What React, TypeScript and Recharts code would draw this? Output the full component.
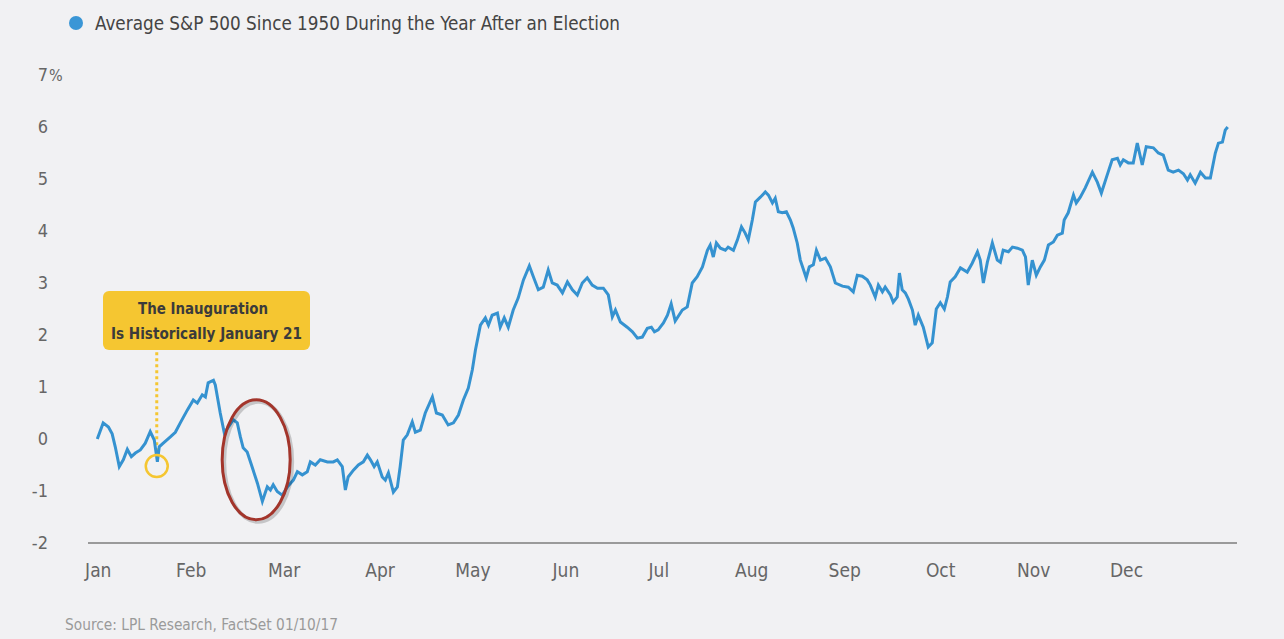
import { LineChart, Line, XAxis, YAxis, ReferenceDot, ReferenceLine } from 'recharts';

const MONTHS = ['Jan', 'Feb', 'Mar', 'Apr', 'May', 'Jun', 'Jul', 'Aug', 'Sep', 'Oct', 'Nov', 'Dec'];
const MONTH_TICKS = [0, 30, 60, 91, 121, 151, 181, 211, 241, 272, 302, 332];
const Y_TICKS = [-2, -1, 0, 1, 2, 3, 4, 5, 6, 7];

// day of year (0 = Jan 1) for each plotted point
const dayOfYear = [
  0, 1.9, 3.6, 4.8, 5.8, 7.1, 8.4, 9.7, 11.0, 12.3, 13.9, 15.5, 17.1, 18.4, 19.4, 20.0, 21.3, 23.6, 25.2, 26.8,
  29.1, 31.0, 32.3, 33.9, 34.9, 35.8, 37.5, 38.1, 39.7, 41.0, 42.3, 43.9, 45.2, 46.2, 47.1, 48.4, 50.0, 51.7, 53.3, 54.2,
  54.9, 55.9, 56.8, 58.1, 59.7, 61.4, 63.3, 64.6, 66.2, 67.8, 68.8, 70.4, 72.0, 74.3, 76.2, 77.5, 79.1, 80.1, 81.0, 82.7,
  84.3, 85.9, 87.2, 88.2, 89.4, 90.4, 92.0, 93.0, 94.0, 95.6, 96.9, 97.8, 98.8, 100.1, 101.7, 102.7, 104.3, 105.9, 108.2, 109.5,
  111.4, 113.3, 115.0, 116.6, 118.2, 119.8, 121.1, 122.1, 123.7, 125.3, 126.3, 127.5, 129.2, 130.1, 131.4, 132.7, 134.3, 135.9, 137.6, 139.5,
  140.8, 142.4, 144.0, 145.6, 146.9, 148.5, 150.2, 151.8, 153.4, 155.0, 156.6, 158.2, 159.8, 161.5, 163.4, 165.0, 166.3, 167.3, 168.9, 171.1,
  172.8, 174.4, 176.0, 177.6, 178.9, 179.9, 181.1, 182.8, 184.1, 185.3, 186.6, 188.9, 190.5, 192.1, 193.7, 195.4, 197.0, 197.9, 198.9, 199.9,
  201.2, 202.8, 203.7, 205.4, 206.7, 208.0, 209.2, 210.2, 211.5, 212.5, 214.1, 215.7, 216.7, 218.0, 218.9, 219.9, 221.2, 222.5, 223.8, 224.7,
  226.0, 227.0, 228.9, 229.9, 231.2, 232.2, 233.5, 235.1, 236.7, 238.3, 240.6, 242.5, 244.1, 245.4, 247.0, 248.6, 249.6, 251.2, 252.2, 253.5,
  254.4, 256.1, 257.0, 258.3, 259.0, 259.9, 260.9, 261.9, 263.2, 264.1, 265.1, 266.7, 268.3, 269.6, 270.9, 272.2, 273.5, 274.5, 275.4, 277.0,
  278.7, 280.9, 282.5, 284.2, 285.1, 286.1, 287.4, 289.0, 290.6, 291.6, 292.5, 294.2, 295.5, 297.1, 298.7, 299.7, 300.6, 301.9, 303.2, 304.5,
  305.8, 307.1, 308.7, 310.0, 311.6, 312.2, 313.5, 315.2, 316.1, 317.4, 319.0, 321.3, 322.9, 324.2, 326.1, 327.7, 329.4, 330.3, 331.3, 332.9,
  334.5, 335.8, 337.4, 338.7, 341.0, 342.6, 344.2, 345.8, 347.4, 349.1, 350.7, 352.0, 352.9, 354.5, 356.2, 357.8, 359.4, 361.0, 362.0, 363.3,
  364.2, 365.0,
];

// average S&P 500 return (%) since 1950, year after an election
const avgReturn = [
  0.0, 0.31, 0.23, 0.1, -0.15, -0.53, -0.4, -0.2, -0.34, -0.27, -0.21, -0.08, 0.14, -0.02, -0.44, -0.15, -0.08, 0.04, 0.13, 0.31,
  0.56, 0.75, 0.69, 0.85, 0.81, 1.08, 1.13, 1.04, 0.5, 0.12, 0.23, 0.37, 0.31, 0.04, -0.17, -0.25, -0.54, -0.85, -1.2, -1.04,
  -0.92, -0.98, -0.88, -1.01, -1.08, -0.92, -0.79, -0.63, -0.69, -0.63, -0.44, -0.5, -0.4, -0.44, -0.44, -0.4, -0.53, -0.98, -0.73, -0.6,
  -0.5, -0.44, -0.31, -0.4, -0.53, -0.44, -0.73, -0.79, -0.65, -1.02, -0.92, -0.53, -0.02, 0.08, 0.33, 0.13, 0.17, 0.5, 0.81, 0.5,
  0.46, 0.27, 0.31, 0.46, 0.75, 0.98, 1.33, 1.71, 2.19, 2.33, 2.19, 2.38, 2.42, 2.15, 2.33, 2.15, 2.48, 2.71, 3.06, 3.33,
  3.12, 2.87, 2.92, 3.25, 3.0, 2.96, 2.81, 3.02, 2.87, 2.77, 3.0, 3.1, 2.96, 2.9, 2.9, 2.77, 2.35, 2.48, 2.25, 2.15,
  2.06, 1.94, 1.96, 2.13, 2.15, 2.06, 2.1, 2.23, 2.38, 2.6, 2.27, 2.48, 2.54, 3.0, 3.12, 3.31, 3.63, 3.73, 3.5, 3.77,
  3.67, 3.63, 3.69, 3.63, 3.83, 4.08, 3.96, 3.83, 4.21, 4.56, 4.65, 4.75, 4.69, 4.54, 4.63, 4.37, 4.35, 4.37, 4.21, 4.06,
  3.77, 3.44, 3.1, 3.31, 3.35, 3.63, 3.44, 3.48, 3.31, 3.0, 2.94, 2.92, 2.83, 3.15, 3.13, 3.06, 2.96, 2.73, 2.96, 2.83,
  2.92, 2.77, 2.63, 2.73, 3.19, 2.87, 2.81, 2.69, 2.48, 2.19, 2.38, 2.15, 1.77, 1.85, 2.5, 2.62, 2.5, 2.73, 3.02, 3.12,
  3.29, 3.21, 3.38, 3.6, 3.44, 3.0, 3.4, 3.77, 3.44, 3.4, 3.63, 3.6, 3.69, 3.67, 3.63, 3.5, 2.96, 3.44, 3.15, 3.31,
  3.44, 3.73, 3.79, 3.92, 3.96, 4.21, 4.35, 4.69, 4.54, 4.65, 4.83, 5.13, 4.94, 4.73, 5.08, 5.37, 5.4, 5.27, 5.37, 5.31,
  5.31, 5.69, 5.27, 5.62, 5.6, 5.5, 5.46, 5.17, 5.13, 5.17, 5.1, 4.98, 5.08, 4.92, 5.13, 5.02, 5.02, 5.5, 5.69, 5.71,
  5.94, 6.0,
];

const data = dayOfYear.map((day, i) => ({ day, value: avgReturn[i] }));

const FONT = "'Liberation Sans Narrow', 'DejaVu Sans Condensed', sans-serif";
const BG = '#f1f1f3';
const LINE_COLOR = '#3592d0';
const YELLOW = '#f5c631';

const YTick = ({ y, payload }: any) => (
  <g>
    <text x={48} y={y} dy={6} textAnchor="end" fill="#666" fontSize={18} fontFamily={FONT}>
      {payload.value}
    </text>
    {payload.value === 7 && (
      <text x={49} y={y} dy={6} textAnchor="start" fill="#666" fontSize={16} fontFamily={FONT}>
        %
      </text>
    )}
  </g>
);

const XTick = ({ x, y, payload }: any) => (
  <text x={x + 1} y={y} dy={26} textAnchor="middle" fill="#666" fontSize={19} fontFamily={FONT}>
    {MONTHS[MONTH_TICKS.indexOf(payload.value)]}
  </text>
);

const RedEllipse = ({ cx, cy }: any) => (
  <g>
    <ellipse cx={cx + 2} cy={cy + 2} rx={34} ry={60} fill="none" stroke="rgba(0,0,0,0.18)" strokeWidth={4} />
    <ellipse cx={cx} cy={cy} rx={34} ry={60} fill="none" stroke="#a3352b" strokeWidth={3} />
  </g>
);

export default function App() {
  return (
    <div style={{ position: 'relative', width: 1284, height: 639, background: BG, overflow: 'hidden' }}>
      <style>{'body{margin:0}'}</style>
      <LineChart width={1284} height={639} data={data} margin={{ top: 75, right: 47, bottom: 46, left: 0 }}>
        <XAxis
          dataKey="day"
          type="number"
          domain={[-3, 368]}
          ticks={MONTH_TICKS}
          tick={<XTick />}
          tickLine={false}
          axisLine={{ stroke: '#9a9a9a', strokeWidth: 2 }}
          height={50}
        />
        <YAxis
          type="number"
          domain={[-2, 7]}
          ticks={Y_TICKS}
          tick={<YTick />}
          tickLine={false}
          axisLine={false}
          width={88}
        />
        <ReferenceLine
          segment={[{ x: 19.2, y: 1.67 }, { x: 19.2, y: -0.3 }]}
          stroke={YELLOW}
          strokeWidth={3}
          strokeDasharray="3 3"
        />
        <Line
          type="linear"
          dataKey="value"
          stroke={LINE_COLOR}
          strokeWidth={3}
          dot={false}
          isAnimationActive={false}
        />
        <ReferenceDot x={19.2} y={-0.52} r={11} fill="none" stroke={YELLOW} strokeWidth={2.5} />
        <ReferenceDot x={51.3} y={-0.4} shape={<RedEllipse />} />
      </LineChart>
      <svg width={1284} height={639} style={{ position: 'absolute', left: 0, top: 0, pointerEvents: 'none' }}>
        <circle cx={76} cy={23} r={7} fill="#3a96d6" />
        <text x={95} y={30} fill="#444" fontSize={20} fontFamily={FONT} textLength={525} lengthAdjust="spacingAndGlyphs">
          Average S&amp;P 500 Since 1950 During the Year After an Election
        </text>
        <rect x={103} y={291} width={207} height={59} rx={6} fill={YELLOW} />
        <text x={138} y={314} fill="#3b3b3b" fontSize={16} fontWeight="bold" fontFamily={FONT} textLength={130} lengthAdjust="spacingAndGlyphs">
          The Inauguration
        </text>
        <text x={111} y={339} fill="#3b3b3b" fontSize={16} fontWeight="bold" fontFamily={FONT} textLength={191} lengthAdjust="spacingAndGlyphs">
          Is Historically January 21
        </text>
        <text x={65} y={630} fill="#9a9a9a" fontSize={15} fontFamily={FONT} textLength={273} lengthAdjust="spacingAndGlyphs">
          Source: LPL Research, FactSet  01/10/17
        </text>
      </svg>
    </div>
  );
}
